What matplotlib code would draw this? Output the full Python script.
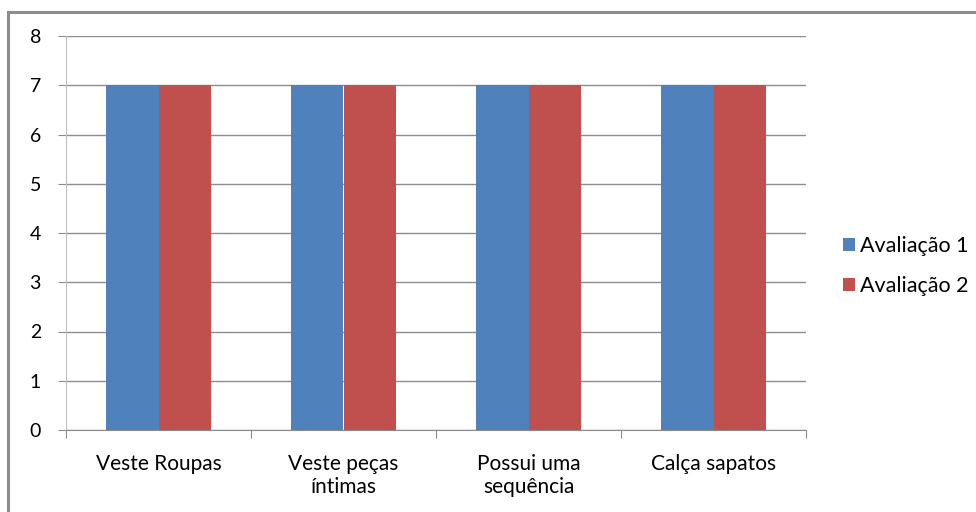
import numpy as np
import matplotlib.pyplot as plt
from matplotlib.patches import Rectangle

categories = ['Veste Roupas', 'Veste peças\níntimas', 'Possui uma\nsequência', 'Calça sapatos']
avaliacao_1 = [7, 7, 7, 7]
avaliacao_2 = [7, 7, 7, 7]
series_names = ['Avaliação 1', 'Avaliação 2']

plt.rcParams['font.family'] = ['Lato', 'DejaVu Sans']

W, H = 976, 512
fig = plt.figure(figsize=(W / 100, H / 100), dpi=100)
ax = fig.add_axes([66 / W, (H - 430) / H, (806 - 66) / W, (430 - 36) / H])

# outer chart frame (cropped on right and bottom in the original)
fig.patches.append(Rectangle((8 / W, -0.1), 1.2, (H - 12) / H + 0.1,
                             transform=fig.transFigure, fill=False,
                             edgecolor='#8c8c8c', linewidth=2.2))

x = np.arange(len(categories))
w = 0.283
ax.bar(x - w / 2, avaliacao_1, w, color='#4f81bd', label=series_names[0], zorder=3)
ax.bar(x + w / 2, avaliacao_2, w, color='#c0504d', label=series_names[1], zorder=3)

ax.set_xlim(-0.5, len(categories) - 0.5)
ax.set_ylim(0, 8)
ax.set_yticks(range(0, 9))
ax.yaxis.grid(True, color='#8c8c8c', linewidth=1, zorder=0)
ax.tick_params(axis='y', length=6, color='#8c8c8c', labelsize=14, pad=12)

ax.set_xticks(np.arange(-0.5, len(categories) + 0.5, 1))
ax.set_xticklabels([])
ax.set_xticks(x, minor=True)
ax.set_xticklabels(categories, minor=True, fontsize=15, linespacing=1.2)
ax.tick_params(axis='x', which='major', length=6, color='#8c8c8c')
ax.tick_params(axis='x', which='minor', length=0, pad=17)

for side in ['top', 'right']:
    ax.spines[side].set_visible(False)
ax.spines['left'].set_color('#bfbfbf')
ax.spines['bottom'].set_color('#8c8c8c')

fig.legend(loc='center left', bbox_to_anchor=(843 / W, (H - 266) / H), frameon=False,
           fontsize=15.5, handlelength=0.55, handleheight=0.55, handletextpad=0.25,
           labelspacing=0.9, borderpad=0, borderaxespad=0)

plt.savefig('out.png', dpi=100)
